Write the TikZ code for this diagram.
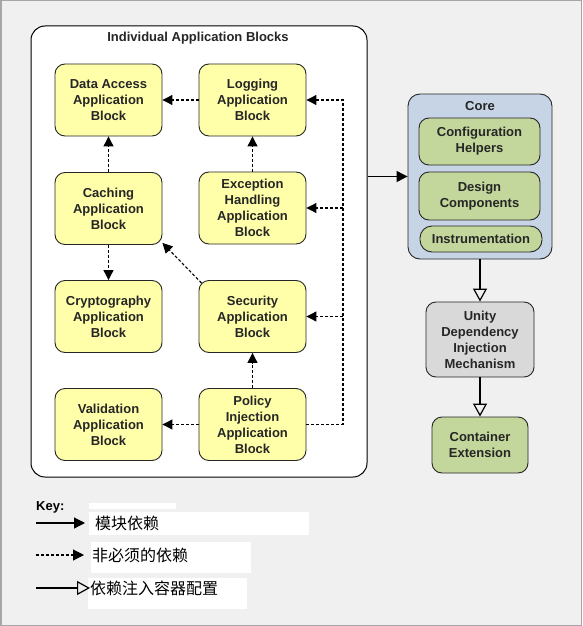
\documentclass[tikz,border=0pt]{standalone}
\usepackage{fontspec}
\setmainfont{Liberation Sans}
\newfontfamily\cjk{Noto Sans CJK SC}
\usetikzlibrary{arrows.meta}
\definecolor{bgc}{HTML}{F0F0F0}
\definecolor{yel}{HTML}{FFFFAA}
\definecolor{grn}{HTML}{C3D69B}
\definecolor{blu}{HTML}{C6D4E6}
\definecolor{gry}{HTML}{D9D9D9}
\begin{document}
\begin{tikzpicture}[x=1pt,y=-1pt,
  lbl/.style={font=\bfseries\fontsize{13}{16}\selectfont, align=center, text=black!85},
  app/.style={lbl, draw=black!85, line width=0.9pt, fill=yel, rounded corners=10pt, minimum width=107pt, minimum height=72pt, inner sep=0pt},
  gbox/.style={lbl, draw=black!85, line width=0.9pt, fill=grn, rounded corners=10pt, inner sep=0pt},
  dep/.style={densely dashed, line width=1.1pt, -{Triangle[length=10pt,width=10pt]}},
  req/.style={line width=1.2pt, -{Triangle[length=11pt,width=11pt]}},
  inj/.style={line width=1.2pt, -{Triangle[open,length=13pt,width=14pt]}},
  keytxt/.style={font=\cjk\fontsize{16}{19}\selectfont, anchor=west, inner sep=0pt}
]
\useasboundingbox (0,0) rectangle (582,626);
\fill[bgc] (0,0) rectangle (582,626);
\draw[gray!70, line width=1.5pt] (0.75,0.75) rectangle (581.25,625.25);

% panel
\node[draw=black, line width=1pt, fill=white, rounded corners=14pt, minimum width=336pt, minimum height=451pt, inner sep=0pt] (iab) at (199,251.5) {};
\node[lbl] (iabt) at (198,38) {Individual Application Blocks};

\node[app] (da)   at (108.5,100) {Data Access\\Application\\Block};
\node[app] (log)  at (252.5,100) {Logging\\Application\\Block};
\node[app] (cach) at (108.5,208.5) {Caching\\Application\\Block};
\node[app] (exc)  at (252.5,208) {Exception\\Handling\\Application\\Block};
\node[app] (cry)  at (108.5,316.5) {Cryptography\\Application\\Block};
\node[app] (sec)  at (252.5,316.5) {Security\\Application\\Block};
\node[app] (val)  at (108.5,424.5) {Validation\\Application\\Block};
\node[app] (pol)  at (252.5,424.5) {Policy\\Injection\\Application\\Block};

% dependencies (optional)
\draw[dep] (log.west) -- (da.east);
\draw[dep] (exc.north) -- (log.south);
\draw[dep] (cach.north) -- (da.south);
\draw[dep] (cach.south) -- (cry.north);
\draw[dep] ([shift={(3,3)}]sec.north west) -- ([shift={(0,-2)}]cach.south east);
\draw[dep] (pol.north) -- (sec.south);
\draw[dep] (pol.west) -- (val.east);
\coordinate (bus) at (343,424.5);
\draw[dep] (pol.east) -- (bus) |- (log.east);
\draw[dep] (bus |- exc.east) -- (exc.east);
\draw[dep] (bus |- sec.east) -- (sec.east);

% core
\node[draw=black!85, line width=0.9pt, fill=blu, rounded corners=12pt, minimum width=144pt, minimum height=165pt, inner sep=0pt] (core) at (480,176.5) {};
\node[lbl] (coret) at (480,106) {Core};
\node[gbox, minimum width=121pt, minimum height=47pt] (cfg) at (479.5,141.5) {Configuration\\Helpers};
\node[gbox, minimum width=121pt, minimum height=48pt] (dsg) at (479.5,196) {Design\\Components};
\node[gbox, rounded corners=12pt, minimum width=122pt, minimum height=26pt] (ins) at (481,239) {Instrumentation};

\node[lbl, draw=black!85, line width=0.9pt, fill=gry, rounded corners=10pt, minimum width=108pt, minimum height=75pt, inner sep=0pt] (uni) at (480,339.5) {Unity\\Dependency\\Injection\\Mechanism};
\node[gbox, minimum width=96pt, minimum height=56pt] (cont) at (480,445) {Container\\Extension};

\draw[req] (iab.east |- core.west) -- (core.west);
\draw[inj] (core.south) -- (uni.north);
\draw[inj] (uni.south) -- (cont.north);

% key
\node[font=\bfseries\fontsize{13}{16}\selectfont, anchor=west, inner sep=0pt] (key) at (36,507) {Key:};
\fill[white] (89,503) rectangle (176,509);
\fill[white] (89,512) rectangle (309,535);
\fill[white] (91,542) rectangle (251,573);
\fill[white] (88,578) rectangle (247,609);
\node[keytxt] (k1) at (95,523) {模块依赖};
\node[keytxt] (k2) at (92,555) {非必须的依赖};
\node[keytxt] (k3) at (90,588) {依赖注入容器配置};
\coordinate (k1a) at (36,523);
\coordinate (k2a) at (36,555);
\coordinate (k3a) at (36,588);
\draw[req] (k1a) -- ([xshift=-10pt]k1.west);
\draw[dep, -{Triangle[length=11pt,width=11pt]}] (k2a) -- ([xshift=-8pt]k2.west);
\draw[inj] (k3a) -- ([xshift=0pt]k3.west);
\end{tikzpicture}
\end{document}
